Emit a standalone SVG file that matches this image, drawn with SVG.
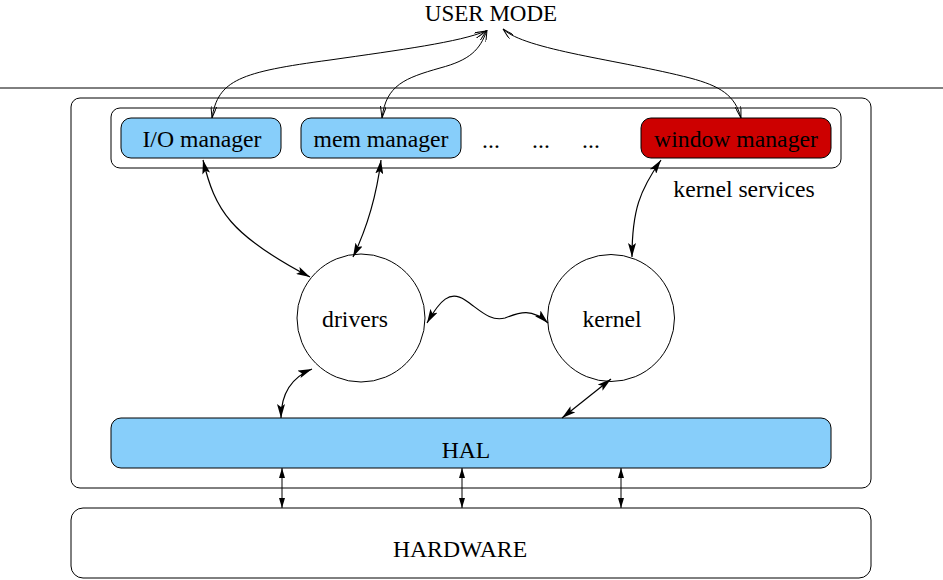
<svg xmlns="http://www.w3.org/2000/svg" width="943" height="580" viewBox="0 0 943 580">
<defs>
<style>
text{font-family:"Liberation Serif","Times New Roman",serif;font-size:23.7px;fill:#000;text-anchor:middle}
.box{fill:#fff;stroke:#000;stroke-width:1}
.blue{fill:#87cefa;stroke:#000;stroke-width:1}
.red{fill:#cd0000;stroke:#000;stroke-width:1}
.c{fill:none;stroke:#000;stroke-width:1.2}
.t{fill:none;stroke:#000;stroke-width:1}
</style>
<marker id="a" viewBox="0 0 14 8" refX="14" refY="4" markerWidth="14" markerHeight="8" markerUnits="userSpaceOnUse" orient="auto-start-reverse">
<path d="M0,0 L14,4 L0,8 L3,4 Z" fill="#000"/>
</marker>
<marker id="s" viewBox="0 0 12 6" refX="12" refY="3" markerWidth="12" markerHeight="6" markerUnits="userSpaceOnUse" orient="auto-start-reverse">
<path d="M0,0 L12,3 L0,6" fill="none" stroke="#000" stroke-width="1"/>
</marker>
<marker id="h" viewBox="0 0 10 6" refX="10" refY="3" markerWidth="10" markerHeight="6" markerUnits="userSpaceOnUse" orient="auto-start-reverse">
<path d="M0,0 L10,3 L0,6 Z" fill="#000"/>
</marker>
</defs>
<line x1="0" y1="88" x2="943" y2="88" stroke="#000" stroke-width="1"/>
<g id="user-mode"><text x="491" y="21" style="font-size:23px">USER MODE</text></g>
<g id="kernel-mode"><rect class="box" x="71" y="98" width="800" height="390" rx="9"/></g>
<g id="kernel-services"><rect class="box" x="111" y="108" width="730" height="60" rx="9"/><text x="744" y="197">kernel services</text></g>
<g id="io-manager"><rect class="blue" x="121" y="118" width="160" height="40" rx="10"/><text x="202" y="147">I/O manager</text></g>
<g id="mem-manager"><rect class="blue" x="301" y="118" width="160" height="40" rx="10"/><text x="381" y="147">mem manager</text></g>
<g id="dots"><text x="491" y="148">...</text><text x="541" y="148">...</text><text x="591" y="148">...</text></g>
<g id="window-manager"><rect class="red" x="641" y="118" width="190" height="40" rx="10"/><text x="736" y="147">window manager</text></g>
<g id="drivers"><circle class="box" cx="361" cy="318" r="64"/><text x="355" y="327">drivers</text></g>
<g id="kernel"><circle class="box" cx="611" cy="318" r="63.5"/><text x="612" y="327">kernel</text></g>
<g id="hal"><rect class="blue" x="111" y="418" width="720" height="50" rx="10"/><text x="466" y="458">HAL</text></g>
<g id="hardware"><rect class="box" x="71" y="508" width="800" height="70" rx="12"/><text x="460" y="557">HARDWARE</text></g>
<g id="connectors">
<path class="t" marker-start="url(#s)" marker-end="url(#s)" d="M212,118 C218,80 240,72 330,60 C400,50 460,42 486,31"/>
<path class="t" marker-start="url(#s)" marker-end="url(#s)" d="M382,118 C386,85 405,78 440,68 C470,60 480,50 487,30"/>
<path class="t" marker-start="url(#s)" marker-end="url(#s)" d="M741,118 C735,95 720,86 690,78 C620,60 525,50 503,29"/>
<path class="c" marker-start="url(#a)" marker-end="url(#a)" d="M203,160 C215,210 230,235 310,277"/>
<path class="c" marker-start="url(#a)" marker-end="url(#a)" d="M381,160 C376,200 366,230 353,257"/>
<path class="c" marker-start="url(#a)" marker-end="url(#a)" d="M661,160 C640,190 632,210 632,257"/>
<path class="c" marker-start="url(#a)" marker-end="url(#a)" d="M427,323 C440,300 450,290 465,300 C480,310 490,322 505,318 C520,312 532,308 548,323"/>
<path class="c" marker-start="url(#a)" marker-end="url(#a)" d="M312,369 C290,378 281,395 281,418"/>
<path class="c" marker-start="url(#a)" marker-end="url(#a)" d="M611,379 L562,418"/>
<path class="t" marker-start="url(#h)" marker-end="url(#h)" d="M282,468 L282,508"/>
<path class="t" marker-start="url(#h)" marker-end="url(#h)" d="M462,468 L462,508"/>
<path class="t" marker-start="url(#h)" marker-end="url(#h)" d="M621,468 L621,508"/>
</g>
</svg>
